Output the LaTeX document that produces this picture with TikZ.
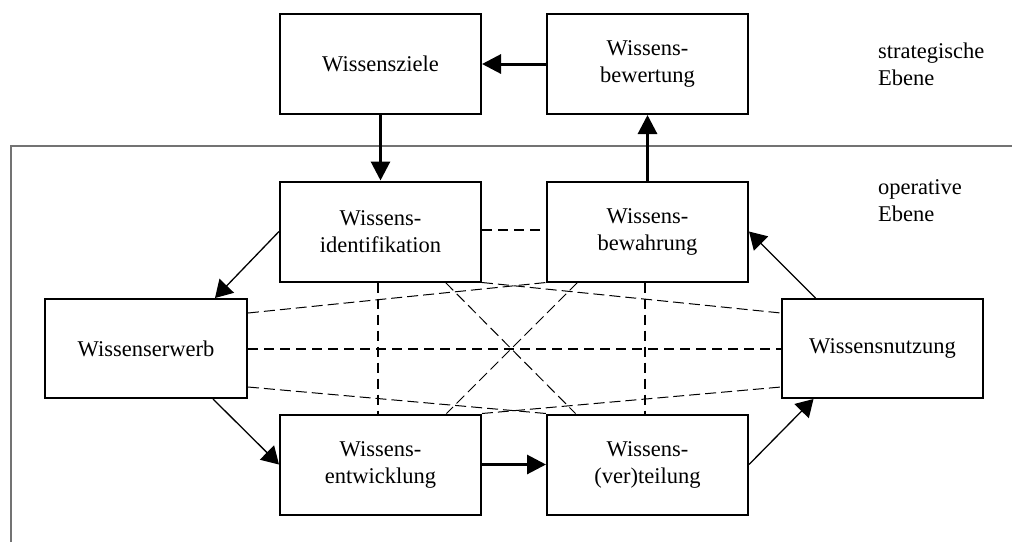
\documentclass[tikz,border=0pt]{standalone}
\usepackage{fontspec}
\setmainfont{Liberation Serif}
\usetikzlibrary{arrows.meta,calc}

\tikzset{
  box/.style={draw, line width=2pt, minimum width=201pt, minimum height=100pt,
              inner sep=0pt, align=center, font=\fontsize{22.5}{27}\selectfont},
  lbl/.style={inner sep=0pt, align=left, anchor=north west,
              font=\fontsize{22.5}{27}\selectfont},
  thickarrow/.style={line width=3pt, -{Triangle[length=19pt,width=19pt]}},
  thinarrow/.style={line width=1.3pt, -{Triangle[length=17pt,width=20pt]}},
  thickdash/.style={line width=2pt, dash pattern=on 10pt off 6pt},
  thindash/.style={line width=1pt, dash pattern=on 11pt off 5pt},
  frameline/.style={line width=1.2pt, draw=black!55}
}

\begin{document}
\begin{tikzpicture}[x=1pt, y=-1pt]
  \useasboundingbox (0,0) rectangle (1012,542);

  % operative level frame (open to the right and bottom)
  \draw[frameline] (11,542) -- (11,146) -- (1012,146);

  % strategic level
  \node[box] (ziele)     at (380.5,64) {Wissensziele};
  \node[box] (bewertung) at (647.5,64) {Wissens-\\bewertung};

  % operative level
  \node[box] (ident)     at (380.5,231.5) {Wissens-\\identifikation};
  \node[box] (bewahrung) at (647.5,231.5) {Wissens-\\bewahrung};
  \node[box, minimum width=202pt, minimum height=99pt] (erwerb)  at (146,348.5) {Wissenserwerb};
  \node[box, minimum height=99pt] (nutzung) at (882.5,348.5) {Wissensnutzung};
  \node[box] (entw)      at (380.5,464.5) {Wissens-\\entwicklung};
  \node[box] (teilung)   at (647.5,464.5) {Wissens-\\(ver)teilung};

  % level labels
  \node[lbl] (strat) at (878,42.5) {strategische\\Ebene};
  \node[lbl] (oper)  at (878,179) {operative\\Ebene};

  % thick process arrows
  \draw[thickarrow] (bewertung.west) -- (ziele.east);
  \draw[thickarrow] (ziele.south) -- (ident.north);
  \draw[thickarrow] (bewahrung.north) -- (bewertung.south);
  \draw[thickarrow] (entw.east) -- (teilung.west);

  % thin cycle arrows
  \draw[thinarrow] (ident.west) -- ($(erwerb.north)+(69,0)$);
  \draw[thinarrow] ($(erwerb.south)+(67,0)$) -- (entw.west);
  \draw[thinarrow] (teilung.east) -- ($(nutzung.south)+(-69,0)$);
  \draw[thinarrow] ($(nutzung.north)+(-67,0)$) -- (bewahrung.east);

  % heavy dashed links
  \draw[thickdash] ($(ident.east)+(0,-1.5)$) -- ($(bewahrung.west)+(0,-1.5)$);
  \draw[thickdash] (erwerb.east) -- (nutzung.west);
  \draw[thickdash] ($(ident.south)+(-2.5,0)$) -- ($(entw.north)+(-2.5,0)$);
  \draw[thickdash] ($(bewahrung.south)+(-2.5,0)$) -- ($(teilung.north)+(-2.5,0)$);

  % light dashed links
  \draw[thindash] ($(erwerb.east)+(0,-35.5)$) -- (bewahrung.south west);
  \draw[thindash] (ident.south east) -- ($(nutzung.west)+(0,-35.5)$);
  \draw[thindash] ($(erwerb.east)+(0,38.5)$) -- (teilung.north west);
  \draw[thindash] (entw.north east) -- ($(nutzung.west)+(0,38.5)$);
  \draw[thindash] ($(ident.south)+(65,0)$) -- ($(teilung.north)+(-72,0)$);
  \draw[thindash] ($(bewahrung.south)+(-70,0)$) -- ($(entw.north)+(66,0)$);
\end{tikzpicture}
\end{document}
